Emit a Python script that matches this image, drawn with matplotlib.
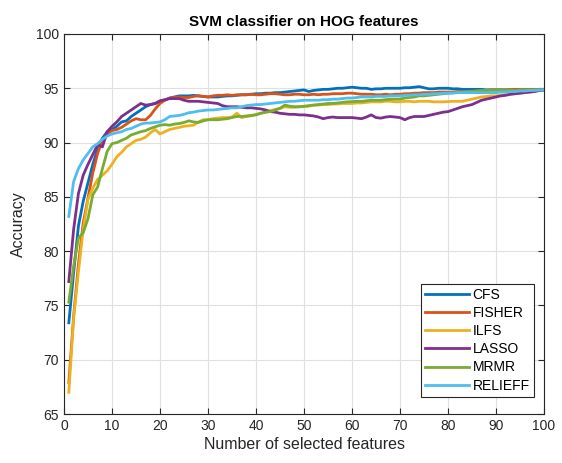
import numpy as np
import matplotlib
matplotlib.use("Agg")
import matplotlib.pyplot as plt

plt.rcParams['font.family'] = ['Liberation Sans', 'DejaVu Sans']

n_features = list(range(1, 101))

cfs = [73.4, 78.0, 82.3, 84.6, 86.3, 88.0, 89.4, 90.4, 91.0, 91.2,
       91.5, 91.9, 92.0, 92.4, 92.7, 93.0, 93.3, 93.5, 93.6, 93.8,
       93.9, 94.1, 94.2, 94.3, 94.3, 94.3, 94.35, 94.3, 94.25, 94.2,
       94.2, 94.2, 94.25, 94.3, 94.3, 94.35, 94.4, 94.4, 94.45, 94.5,
       94.5, 94.55, 94.55, 94.6, 94.6, 94.65, 94.7, 94.75, 94.8, 94.85,
       94.7, 94.8, 94.85, 94.9, 94.9, 94.95, 95.0, 95.0, 95.05, 95.1,
       95.05, 95.0, 95.0, 94.9, 94.95, 94.95, 95.0, 95.0, 95.0, 95.0,
       95.05, 95.05, 95.1, 95.15, 95.05, 94.95, 94.95, 95.0, 95.0, 95.0,
       94.95, 94.95, 94.9, 94.9, 94.9, 94.9, 94.9, 94.85, 94.85, 94.85,
       94.85, 94.85, 94.85, 94.85, 94.85, 94.85, 94.85, 94.85, 94.85, 94.85]

fisher = [67.9, 74.0, 78.8, 82.6, 84.9, 87.2, 89.0, 90.2, 90.8, 91.1,
          91.2, 91.4, 91.7, 92.0, 92.2, 92.1, 92.1, 92.5, 93.1, 93.6,
          93.9, 94.1, 94.15, 94.2, 94.15, 94.15, 94.25, 94.3, 94.25, 94.2,
          94.3, 94.35, 94.35, 94.4, 94.35, 94.4, 94.4, 94.4, 94.45, 94.4,
          94.4, 94.45, 94.5, 94.5, 94.45, 94.4, 94.4, 94.45, 94.45, 94.4,
          94.4, 94.45, 94.4, 94.45, 94.45, 94.5, 94.5, 94.5, 94.55, 94.55,
          94.5, 94.45, 94.45, 94.45, 94.4, 94.4, 94.45, 94.4, 94.45, 94.45,
          94.5, 94.5, 94.55, 94.55, 94.6, 94.6, 94.6, 94.65, 94.65, 94.65,
          94.65, 94.7, 94.7, 94.7, 94.75, 94.75, 94.8, 94.8, 94.85, 94.85,
          94.85, 94.85, 94.9, 94.9, 94.9, 94.9, 94.9, 94.9, 94.9, 94.9]

ilfs = [67.0, 73.8, 78.1, 82.0, 84.8, 85.8, 86.6, 87.0, 87.4, 88.0,
        88.7, 89.1, 89.6, 89.9, 90.2, 90.3, 90.5, 90.9, 91.2, 90.8,
        91.0, 91.2, 91.3, 91.4, 91.5, 91.55, 91.6, 91.9, 92.1, 92.1,
        92.2, 92.25, 92.3, 92.3, 92.35, 92.7, 92.3, 92.4, 92.45, 92.6,
        92.7, 92.8, 92.95, 93.05, 93.15, 93.3, 93.25, 93.25, 93.3, 93.3,
        93.35, 93.45, 93.45, 93.5, 93.5, 93.55, 93.55, 93.6, 93.6, 93.6,
        93.65, 93.65, 93.7, 93.75, 93.75, 93.75, 93.8, 93.8, 93.75, 93.75,
        93.8, 93.8, 93.75, 93.8, 93.8, 93.8, 93.75, 93.75, 93.75, 93.77,
        93.8, 93.8, 93.8, 93.9, 94.0, 94.1, 94.2, 94.25, 94.3, 94.3,
        94.35, 94.4, 94.45, 94.5, 94.55, 94.6, 94.65, 94.7, 94.8, 94.85]

lasso = [77.2, 82.0, 85.3, 87.0, 88.0, 88.9, 89.8, 89.6, 91.0, 91.5,
         91.9, 92.4, 92.7, 93.0, 93.3, 93.6, 93.45, 93.5, 93.6, 93.85,
         93.95, 94.05, 94.05, 94.05, 93.9, 93.8, 93.8, 93.8, 93.75, 93.7,
         93.65, 93.6, 93.4, 93.3, 93.3, 93.3, 93.25, 93.2, 93.2, 93.15,
         93.1, 93.0, 92.85, 92.8, 92.7, 92.65, 92.6, 92.6, 92.55, 92.55,
         92.5, 92.45, 92.35, 92.2, 92.3, 92.35, 92.3, 92.3, 92.3, 92.3,
         92.25, 92.2, 92.35, 92.55, 92.3, 92.25, 92.35, 92.4, 92.35, 92.3,
         92.1, 92.3, 92.4, 92.4, 92.4, 92.5, 92.6, 92.7, 92.8, 92.85,
         93.0, 93.15, 93.3, 93.4, 93.5, 93.7, 93.9, 94.0, 94.1, 94.2,
         94.3, 94.35, 94.45, 94.5, 94.55, 94.6, 94.65, 94.7, 94.8, 94.85]

mrmr = [75.3, 78.6, 81.2, 81.7, 83.0, 85.2, 85.9, 87.6, 89.2, 89.9,
        90.0, 90.2, 90.4, 90.7, 90.85, 91.0, 91.1, 91.3, 91.45, 91.6,
        91.65, 91.6, 91.7, 91.75, 91.85, 92.0, 91.9, 91.85, 92.0, 92.1,
        92.1, 92.1, 92.15, 92.2, 92.3, 92.4, 92.4, 92.45, 92.5, 92.55,
        92.7, 92.8, 92.85, 93.0, 93.15, 93.45, 93.35, 93.3, 93.3, 93.35,
        93.4, 93.45, 93.5, 93.55, 93.6, 93.6, 93.65, 93.7, 93.75, 93.77,
        93.8, 93.8, 93.85, 93.9, 93.9, 93.9, 93.95, 94.0, 94.0, 94.0,
        94.1, 94.15, 94.2, 94.3, 94.3, 94.35, 94.4, 94.45, 94.5, 94.55,
        94.6, 94.6, 94.65, 94.7, 94.7, 94.75, 94.8, 94.8, 94.85, 94.85,
        94.85, 94.85, 94.85, 94.8, 94.85, 94.85, 94.85, 94.85, 94.85, 94.85]

relieff = [83.2, 86.4, 87.6, 88.4, 89.0, 89.6, 89.9, 90.3, 90.6, 90.8,
           90.9, 91.0, 91.2, 91.3, 91.5, 91.7, 91.8, 91.8, 91.85, 91.9,
           92.1, 92.4, 92.45, 92.5, 92.6, 92.75, 92.8, 92.9, 92.95, 93.0,
           93.0, 93.05, 93.1, 93.15, 93.2, 93.2, 93.3, 93.4, 93.45, 93.5,
           93.5, 93.55, 93.6, 93.65, 93.7, 93.75, 93.8, 93.8, 93.85, 93.9,
           93.9, 93.9, 93.9, 93.95, 93.95, 94.0, 94.0, 94.05, 94.1, 94.1,
           94.15, 94.2, 94.2, 94.2, 94.25, 94.25, 94.25, 94.3, 94.3, 94.3,
           94.35, 94.35, 94.4, 94.4, 94.45, 94.45, 94.5, 94.5, 94.55, 94.55,
           94.55, 94.6, 94.6, 94.6, 94.6, 94.6, 94.6, 94.6, 94.6, 94.6,
           94.65, 94.65, 94.7, 94.7, 94.75, 94.75, 94.8, 94.8, 94.85, 94.85]

series_names = ["CFS", "FISHER", "ILFS", "LASSO", "MRMR", "RELIEFF"]
series_values = [cfs, fisher, ilfs, lasso, mrmr, relieff]
colors = ["#0072BD", "#D95319", "#EDB120", "#7E2F8E", "#77AC30", "#4DBEEE"]

x_ticks = [0, 10, 20, 30, 40, 50, 60, 70, 80, 90, 100]
y_ticks = [65, 70, 75, 80, 85, 90, 95, 100]

fig = plt.figure(figsize=(5.62, 4.63), dpi=100)
ax = fig.add_axes([0.1139, 0.1058, 0.8541, 0.8208])

for name, vals, c in zip(series_names, series_values, colors):
    ax.plot(n_features, vals, color=c, lw=2.0, label=name)

ax.set_xlim(0, 100)
ax.set_ylim(65, 100)
ax.set_xticks(x_ticks)
ax.set_yticks(y_ticks)
ax.grid(True, color="#e0e0e0", lw=0.8)
ax.set_axisbelow(True)
for s in ax.spines.values():
    s.set_color("#262626")
    s.set_linewidth(0.8)
ax.tick_params(direction="in", length=4, width=0.8, colors="#262626",
               labelsize=10, top=True, right=True, labeltop=False, labelright=False)
ax.set_xlabel("Number of selected features", fontsize=11.5, color="#262626", labelpad=3)
ax.set_ylabel("Accuracy", fontsize=11.5, color="#262626", labelpad=7)
ax.set_title("SVM classifier on HOG features", fontsize=11, fontweight="bold",
             color="black", pad=6)

leg = ax.legend(loc="lower right", bbox_to_anchor=(0.979, 0.0455),
                borderaxespad=0, fontsize=10,
                handlelength=3.15, handletextpad=0.25, labelspacing=0.3,
                borderpad=0.3, fancybox=False, framealpha=1, edgecolor="#262626")
leg.get_frame().set_linewidth(0.8)

fig.savefig("out.png", dpi=100)
